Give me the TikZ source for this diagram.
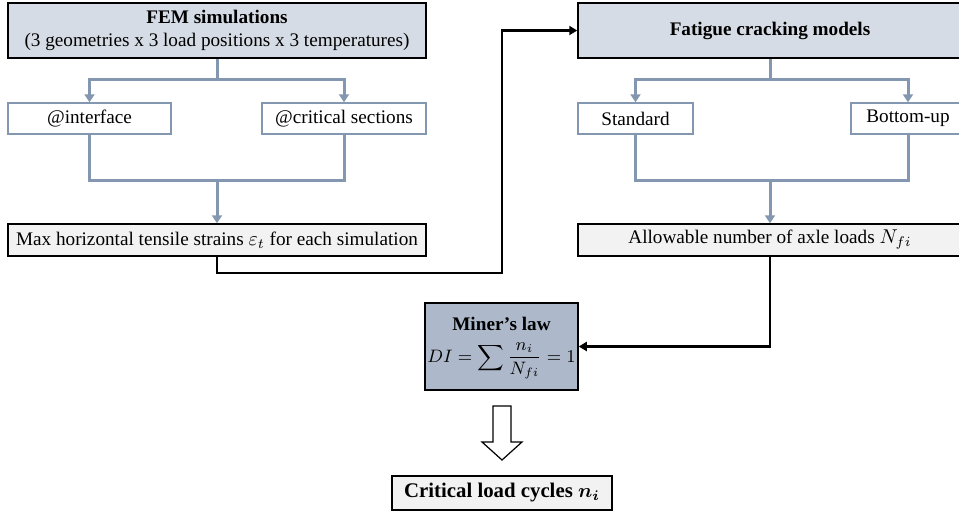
\documentclass[tikz,border=0pt]{standalone}
\usepackage{amsmath}
\usepackage{bm}
\usepackage{fontspec}
\setmainfont{Liberation Serif}
\usetikzlibrary{arrows.meta}
\definecolor{headfill}{RGB}{214,220,229}
\definecolor{lawfill}{RGB}{173,185,202}
\definecolor{outfill}{RGB}{242,242,242}
\definecolor{flow}{RGB}{132,151,176}

\begin{document}
\begin{tikzpicture}[x=0.5pt,y=-0.5pt,
    every node/.style={font=\fontsize{9.6}{11.5}\selectfont},
    headbox/.style={draw=black,line width=0.75pt,fill=headfill,align=center,inner sep=0pt},
    subbox/.style={draw=flow,line width=0.75pt,fill=white,inner sep=0pt,minimum height=15.5pt},
    outbox/.style={draw=black,line width=0.75pt,fill=outfill,inner sep=0pt,minimum height=16pt},
    flowline/.style={flow,line width=1.5pt},
    flowarrow/.style={flowline,-{Triangle[width=5pt,length=4pt]}},
    blkarrow/.style={black,line width=1.2pt,-{Triangle[width=4.5pt,length=4pt]}}]
  \useasboundingbox (0,0) rectangle (959,510);
  \clip (0,0) rectangle (959,510);
  % left branch
  \node[headbox,minimum width=209pt,minimum height=27.5pt] (fem) at (217,30.5)
    {\textbf{FEM simulations}\\(3 geometries x 3 load positions x 3 temperatures)};
  \node[subbox,minimum width=81.5pt] (intf) at (89.5,118.5) {@interface};
  \node[subbox,minimum width=82pt]   (crit) at (344,118.5) {@critical sections};
  \node[outbox,minimum width=209pt]  (maxs) at (217,240)
    {Max horizontal tensile strains $\varepsilon_t$ for each simulation};
  % right branch
  \node[headbox,minimum width=192pt,minimum height=27.5pt] (fat) at (770,30.5)
    {\textbf{Fatigue cracking models}};
  \node[subbox,minimum width=57.5pt] (std) at (635.5,118.5) {Standard};
  \node[subbox,minimum width=57pt]   (bot) at (908,118.5) {Bottom-up};
  \node[outbox,minimum width=192pt]  (allow) at (770,240)
    {Allowable number of axle loads $N_{fi}$};
  % damage
  \node[headbox,fill=lawfill,minimum width=76.5pt,minimum height=43.5pt] (miner) at (501.5,346.5)
    {\begin{tabular}{@{}c@{}}\textbf{Miner's law}\\[3pt]
     {\fontsize{8.6}{10}\selectfont$\displaystyle DI=\sum\frac{n_i}{N_{fi}}=1$}\end{tabular}};
  \node[outbox,minimum width=110pt,minimum height=17pt,font=\fontsize{10.4}{12}\selectfont] (cyc) at (502,493)
    {\textbf{Critical load cycles $\bm{n_i}$}};

  \coordinate (lsplit) at (217,79);
  \coordinate (ljoin)  at (217,180);
  \coordinate (rsplit) at (770,79);
  \coordinate (rjoin)  at (770,180);
  \coordinate (bend)   at (502,273);

  \draw[flowline] (fem.south) -- (lsplit);
  \draw[flowarrow] (lsplit) -| (intf.north);
  \draw[flowarrow] (lsplit) -| (crit.north);
  \draw[flowline] (intf.south) |- (ljoin) -| (crit.south);
  \draw[flowarrow] (ljoin) -- (maxs.north);

  \draw[flowline] (fat.south) -- (rsplit);
  \draw[flowarrow] (rsplit) -| (std.north);
  \draw[flowarrow] (rsplit) -| (bot.north);
  \draw[flowline] (std.south) |- (rjoin) -| (bot.south);
  \draw[flowarrow] (rjoin) -- (allow.north);

  \draw[blkarrow] (maxs.south) |- (bend) |- (fat.west);
  \draw[blkarrow] (allow.south) |- (miner.east);

  % hollow arrow
  \draw[line width=0.6pt,fill=white] (493,406) -- (511,406) -- (511,442) -- (522,442)
    -- (502,460) -- (482,442) -- (493,442) -- cycle;
\end{tikzpicture}
\end{document}
